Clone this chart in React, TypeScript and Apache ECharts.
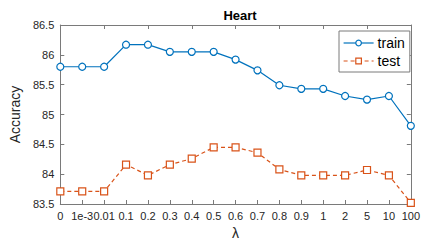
import React, { useEffect, useRef } from "react";
import * as echarts from "echarts";

const categories = ["0", "1e-3", "0.01", "0.1", "0.2", "0.3", "0.4", "0.5", "0.6", "0.7", "0.8", "0.9", "1", "2", "5", "10", "100"];
const trainValues = [85.8, 85.8, 85.8, 86.17, 86.17, 86.05, 86.05, 86.05, 85.92, 85.74, 85.49, 85.43, 85.43, 85.31, 85.25, 85.31, 84.81];
const testValues = [83.71, 83.71, 83.71, 84.16, 83.98, 84.16, 84.26, 84.45, 84.45, 84.36, 84.08, 83.98, 83.98, 83.98, 84.07, 83.98, 83.52];

const axisColor = "#7a7a7a";
const textColor = "#262626";
const font = "'Liberation Sans', Arial, sans-serif";

export default function App() {
  const ref = useRef<HTMLDivElement>(null);
  useEffect(() => {
    if (!ref.current) return;
    const chart = echarts.init(ref.current, undefined, { renderer: "svg" });
    chart.setOption({
      animation: false,
      backgroundColor: "#ffffff",
      textStyle: { fontFamily: font },
      title: {
        text: "Heart",
        left: 235,
        top: 4,
        textAlign: "center",
        textStyle: { fontSize: 13, fontWeight: "bold", color: "#000", fontFamily: font },
      },
      legend: {
        left: 339,
        top: 31,
        orient: "vertical",
        backgroundColor: "#ffffff",
        borderColor: "#7a7a7a",
        borderWidth: 1,
        padding: [5, 5, 4, 4],
        itemGap: 4,
        itemWidth: 30,
        itemHeight: 7,
        lineStyle: { width: 1.2 },
        itemStyle: { borderWidth: 1.2 },
        textStyle: { fontSize: 14, color: "#000", fontFamily: font, padding: [0, 0, 0, -1] },
        data: ["train", "test"],
      },
      grid: { left: 55, right: 4, top: 25, bottom: 38 },
      xAxis: [
        {
          type: "category",
          data: categories,
          boundaryGap: false,
          name: "λ",
          nameLocation: "middle",
          nameGap: 22,
          nameTextStyle: { fontSize: 14, color: textColor, fontFamily: font },
          axisLine: { lineStyle: { color: axisColor, width: 1 } },
          axisTick: { inside: true, length: 4, lineStyle: { color: axisColor } },
          axisLabel: { color: textColor, fontSize: 11, margin: 6, interval: 0, fontFamily: font },
          splitLine: { show: false },
        },
        {
          type: "category",
          data: categories,
          boundaryGap: false,
          position: "top",
          axisLine: { lineStyle: { color: axisColor, width: 1 } },
          axisTick: { inside: true, length: 4, lineStyle: { color: axisColor } },
          axisLabel: { show: false },
          splitLine: { show: false },
        },
      ],
      yAxis: [
        {
          type: "value",
          min: 83.5,
          max: 86.5,
          interval: 0.5,
          name: "Accuracy",
          nameLocation: "middle",
          nameGap: 33,
          nameTextStyle: { fontSize: 14, color: textColor, fontFamily: font },
          axisLine: { show: true, lineStyle: { color: axisColor, width: 1 } },
          axisTick: { show: true, inside: true, length: 4, lineStyle: { color: axisColor } },
          axisLabel: { color: textColor, fontSize: 11, margin: 6, fontFamily: font },
          splitLine: { show: false },
        },
        {
          type: "value",
          min: 83.5,
          max: 86.5,
          interval: 0.5,
          position: "right",
          axisLine: { show: true, lineStyle: { color: axisColor, width: 1 } },
          axisTick: { show: true, inside: true, length: 4, lineStyle: { color: axisColor } },
          axisLabel: { show: false },
          splitLine: { show: false },
        },
      ],
      series: [
        {
          name: "train",
          type: "line",
          data: trainValues,
          symbol: "circle",
          symbolSize: 7,
          showAllSymbol: true,
          color: "#0072BD",
          lineStyle: { color: "#0072BD", width: 1.2 },
          itemStyle: { color: "#ffffff", borderColor: "#0072BD", borderWidth: 1.2 },
        },
        {
          name: "test",
          type: "line",
          data: testValues,
          symbol: "rect",
          symbolSize: 7,
          showAllSymbol: true,
          color: "#D95319",
          lineStyle: { color: "#D95319", width: 1.2, type: [4, 3] },
          itemStyle: { color: "#ffffff", borderColor: "#D95319", borderWidth: 1.2 },
        },
      ],
    });
    return () => chart.dispose();
  }, []);
  return <div ref={ref} style={{ width: 423, height: 245, position: "absolute", left: 0, top: 0 }} />;
}
